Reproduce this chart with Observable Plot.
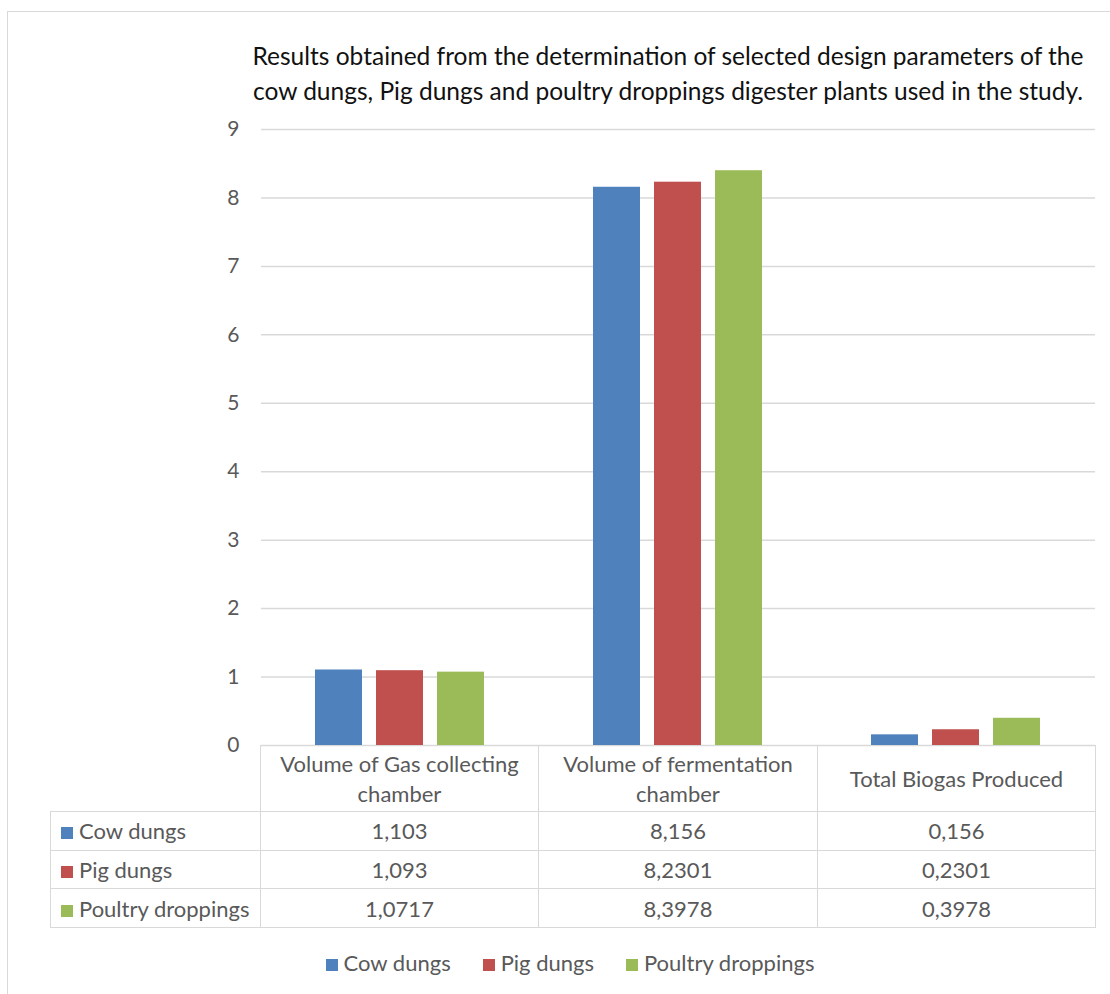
<!DOCTYPE html>
<html>
<head>
<meta charset="utf-8">
<script src="https://cdn.jsdelivr.net/npm/d3@7"></script>
<script src="https://cdn.jsdelivr.net/npm/@observablehq/plot@0.6"></script>
<style>
  html, body { margin: 0; padding: 0; background: #ffffff; }
  #wrap { position: relative; width: 1110px; height: 994px; overflow: hidden; font-family: Lato, "Open Sans", sans-serif; color: #595959; }
  #frame { position: absolute; left: 7px; top: 11px; width: 1200px; height: 1100px; border-top: 1px solid #d9d9d9; border-left: 1px solid #d9d9d9; }
  #title { position: absolute; left: 208px; top: 38px; width: 920px; text-align: center; font-size: 24.5px; line-height: 35px; color: #111; }
  #chart { position: absolute; left: 0; top: 0; }
  table { position: absolute; left: 50px; top: 745px; border-collapse: collapse; font-size: 22px; color: #595959; table-layout: fixed; }
  td { border: 1.5px solid #d9d9d9; text-align: center; padding: 0 6px; }
  td.blank { border: none; border-bottom: 1.5px solid #d9d9d9; border-right: 1.5px solid #d9d9d9; }
  td.lab { text-align: left; padding-left: 10px; white-space: nowrap; }
  tr.head td { height: 65px; line-height: 30px; }
  tr.row td { height: 37.7px; }
  .sw { display: inline-block; width: 12px; height: 12px; margin-right: 6px; vertical-align: 0px; }
  #legend { position: absolute; left: 0; width: 1140px; top: 949px; text-align: center; font-size: 22px; }
  #legend span.item { margin: 0 16px; white-space: nowrap; }
</style>
</head>
<body>
<div id="wrap">
  <div id="frame"></div>
  <div id="chart"></div>
  <div id="title">Results obtained from the determination of selected design parameters of the<br>cow dungs, Pig dungs and poultry droppings digester plants used in the study.</div>
  <table id="tbl"></table>
  <div id="legend"></div>
</div>
<script>
const categories = ["Volume of Gas collecting chamber", "Volume of fermentation chamber", "Total Biogas Produced"];
const series = ["Cow dungs", "Pig dungs", "Poultry droppings"];
const cowDungs = [1.103, 8.156, 0.156];
const pigDungs = [1.093, 8.2301, 0.2301];
const poultryDroppings = [1.0717, 8.3978, 0.3978];
const seriesColors = ["#4F81BD", "#C0504D", "#9BBB59"];
const yTicks = [0, 1, 2, 3, 4, 5, 6, 7, 8, 9];

const values = [cowDungs, pigDungs, poultryDroppings];
const data = series.flatMap((s, i) => categories.map((c, j) => ({category: c, series: s, value: values[i][j]})));

const plot = Plot.plot({
  width: 1110,
  height: 775,
  marginLeft: 260,
  marginRight: 15,
  marginTop: 129,
  marginBottom: 30,
  style: {fontFamily: "Lato, 'Open Sans', sans-serif", fontSize: "21px", color: "#595959", background: "transparent"},
  fx: {domain: categories, paddingInner: 0, paddingOuter: 0, axis: null},
  x: {domain: series, paddingInner: 0.226, paddingOuter: 0.855, axis: null},
  y: {domain: [0, 9], ticks: yTicks, tickSize: 0, tickPadding: 22, label: null, grid: false},
  color: {domain: series, range: seriesColors},
  marks: [
    Plot.ruleY(yTicks, {stroke: "#d9d9d9", strokeWidth: 1.5}),
    Plot.barY(data, {fx: "category", x: "series", y: "value", fill: "series"})
  ]
});
document.getElementById("chart").appendChild(plot);

const fmt = v => String(v).replace(".", ",");
const tbl = document.getElementById("tbl");
let html = '<colgroup><col style="width:210px"><col style="width:278px"><col style="width:279px"><col style="width:278px"></colgroup>';
html += '<tr class="head"><td class="blank"></td>' + categories.map(c => `<td>${c}</td>`).join("") + '</tr>';
series.forEach((s, i) => {
  html += `<tr class="row"><td class="lab"><span class="sw" style="background:${seriesColors[i]}"></span>${s}</td>` +
    values[i].map(v => `<td>${fmt(v)}</td>`).join("") + '</tr>';
});
tbl.innerHTML = html;

document.getElementById("legend").innerHTML = series.map((s, i) =>
  `<span class="item"><span class="sw" style="background:${seriesColors[i]}"></span>${s}</span>`).join("");
</script>
</body>
</html>
